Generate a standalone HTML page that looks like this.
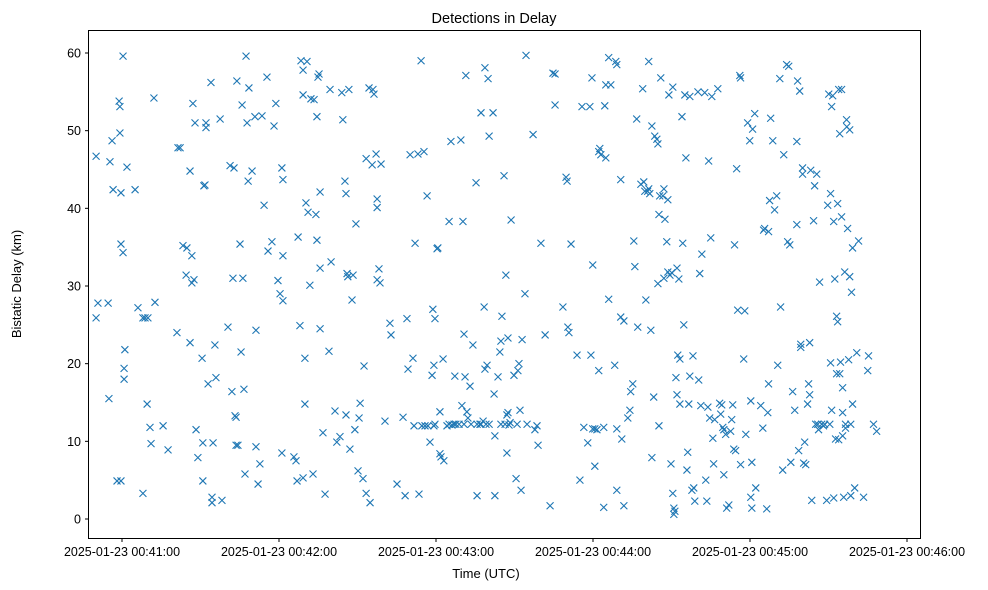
<!DOCTYPE html>
<html><head><meta charset="utf-8"><style>
body{margin:0;background:#fff;}
svg{display:block;font-family:"Liberation Sans","DejaVu Sans",sans-serif;}
</style></head><body>
<svg id="chart" width="988" height="590">
<rect x="0" y="0" width="988" height="590" fill="#fff"/>
<text x="494" y="23" text-anchor="middle" font-size="14.5" fill="#000">Detections in Delay</text>
<g id="marks"></g>
<g id="xticks"></g>
<g id="yticks"></g>
<rect x="88.5" y="30.5" width="832" height="508" fill="none" stroke="#000" stroke-width="1"/>
<text x="486" y="578" text-anchor="middle" font-size="13">Time (UTC)</text>
<text transform="translate(21,284) rotate(-90)" text-anchor="middle" font-size="13">Bistatic Delay (km)</text>
</svg>
<script>
// seconds after 2025-01-23 00:40:00
const times = [50.1,50.1,50.8,54.7,55.4,55.0,56.2,56.6,58.9,59.2,59.2,59.6,59.6,60.4,60.4,61.1,60.8,60.8,61.9,58.1,59.6,65.0,66.1,68.0,68.8,69.9,68.0,69.6,70.7,71.1,72.6,72.2,75.7,77.6,81.0,81.4,82.2,83.3,84.5,86.0,84.8,86.7,86.7,86.0,87.1,87.5,87.9,88.3,89.0,90.6,90.9,91.3,90.9,91.7,92.1,92.1,92.9,94.0,94.4,94.4,94.8,95.5,95.9,97.5,98.2,100.5,101.3,102.0,102.4,102.8,103.2,103.6,103.6,103.9,104.3,105.1,105.5,105.9,106.2,106.6,107.0,107.4,107.8,108.2,108.5,109.7,110.8,111.2,111.2,112.0,112.7,113.5,114.3,115.4,115.8,117.3,118.1,118.8,119.6,120.4,121.1,121.1,121.5,121.5,121.5,125.7,126.5,127.3,126.9,128.0,128.4,129.2,129.2,129.2,129.9,129.9,130.3,130.7,131.1,131.8,132.2,133.0,133.4,134.1,134.5,134.5,134.9,135.3,135.7,135.7,135.7,136.8,137.6,139.1,139.5,139.9,141.4,142.1,143.3,144.0,144.4,145.2,145.6,145.6,146.0,146.3,146.7,147.1,147.9,148.3,149.0,149.4,150.2,150.6,151.0,152.1,152.5,153.3,153.3,154.4,154.8,155.6,155.9,156.3,157.1,157.5,157.5,157.5,158.2,158.6,159.0,160.5,162.4,162.8,165.1,167.4,168.2,168.9,169.3,170.1,171.2,172.0,171.6,173.1,173.5,174.3,174.6,175.4,175.8,176.6,176.9,177.7,178.5,178.8,179.2,179.2,179.6,179.6,180.4,180.7,181.5,181.5,181.9,182.7,183.0,184.2,185.0,185.0,185.7,186.1,186.9,187.2,187.6,188.8,189.5,189.9,190.3,190.7,190.7,191.1,191.4,191.8,192.2,193.0,193.4,194.1,195.3,195.7,195.7,196.8,197.2,197.2,198.0,198.4,198.7,198.7,199.1,199.5,199.9,200.3,200.3,201.8,202.2,202.5,202.5,203.7,204.4,204.8,204.8,205.2,206.0,206.4,206.7,207.1,207.1,207.5,207.5,207.9,208.3,208.7,209.8,210.6,211.0,211.3,211.7,212.1,212.5,212.9,214.0,214.4,214.8,217.1,217.8,218.6,219.0,220.1,221.7,223.6,224.7,225.5,225.5,228.5,229.7,230.1,230.4,230.8,231.6,233.9,235.0,235.8,236.5,238.0,238.8,239.2,239.6,239.9,239.9,240.7,240.7,241.5,242.2,242.6,242.2,243.0,244.1,244.5,244.1,244.9,244.9,246.0,246.0,246.8,248.3,248.7,249.1,249.1,249.1,250.6,250.6,251.0,251.8,251.8,253.3,254.1,254.4,255.2,255.6,256.0,256.7,257.1,258.3,259.0,259.4,259.8,260.2,260.9,261.3,261.3,261.7,262.1,262.5,262.5,263.2,263.6,264.4,264.8,264.8,265.2,265.2,265.5,265.9,266.7,267.1,267.1,267.5,268.2,268.6,268.6,269.0,269.4,269.8,270.1,270.5,270.9,270.5,270.9,271.3,271.7,272.1,272.1,272.4,272.8,273.2,273.2,274.0,274.3,274.7,275.1,275.5,275.9,276.2,276.6,277.0,277.0,277.8,278.2,278.5,278.9,280.1,280.4,280.8,281.2,281.6,282.7,283.1,283.5,283.9,284.2,284.6,285.0,285.4,285.8,286.1,286.5,287.7,288.4,288.8,289.2,289.6,290.0,290.0,290.7,291.1,291.9,292.6,293.0,293.4,293.8,294.1,294.5,294.9,295.3,296.1,296.4,296.4,297.6,298.0,298.4,299.1,299.9,300.3,300.3,300.7,300.7,301.0,301.8,302.2,304.1,304.9,305.2,305.6,306.4,306.8,307.1,307.1,307.5,307.9,308.7,309.4,310.2,310.6,311.4,311.7,312.5,312.9,314.0,314.4,314.8,315.2,315.6,316.3,317.1,317.9,317.9,318.2,318.6,319.0,319.4,319.4,320.1,320.1,320.5,320.9,321.3,322.0,322.4,322.8,322.8,323.2,323.6,324.3,324.7,325.1,325.5,325.9,326.2,326.6,327.4,328.1,328.5,329.3,329.7,330.1,330.5,330.8,330.8,331.2,331.2,331.6,332.0,332.0,332.4,332.7,333.1,333.1,333.5,333.5,333.9,333.9,334.3,334.3,334.6,335.0,335.0,335.4,335.4,335.4,335.8,336.2,336.5,336.5,336.9,337.0,337.3,337.7,338.1,338.1,338.5,338.5,339.2,338.8,339.2,340.0,340.8,341.5,343.4,345.0,345.3,348.4,347.2];
const delays = [46.7,25.9,27.8,27.8,46.0,15.5,48.7,42.4,53.8,53.1,49.7,35.4,42.0,59.6,34.3,21.8,18.0,19.4,45.3,4.9,4.9,42.4,27.2,25.9,25.9,25.9,3.3,14.8,11.8,9.7,27.9,54.2,12.0,8.9,24.0,47.8,47.8,35.2,31.4,44.8,34.9,30.4,33.9,22.7,53.5,30.8,51.0,11.5,7.9,20.7,9.8,42.9,4.9,43.0,51.0,50.4,17.4,56.2,2.8,2.1,9.8,22.4,18.2,51.5,2.4,24.7,45.5,16.4,31.0,45.2,13.3,13.1,9.5,56.4,9.5,35.4,21.5,53.3,31.0,16.7,5.8,59.6,51.0,43.5,55.5,44.8,51.8,24.3,9.3,4.5,7.1,51.9,40.4,56.9,34.5,35.7,50.6,53.5,30.7,29.0,8.5,45.2,28.1,43.7,33.9,8.0,7.5,36.3,4.9,24.9,59.0,57.8,54.6,5.3,20.7,14.8,40.7,58.9,39.5,30.1,54.1,5.8,54.0,39.2,35.9,51.8,56.9,57.3,24.5,32.3,42.1,11.1,3.2,21.6,55.3,33.1,13.9,9.9,10.6,54.9,51.4,43.5,13.4,41.9,31.6,31.2,55.3,9.0,28.2,31.4,11.5,38.0,6.2,13.0,14.9,5.2,19.7,3.3,46.4,55.5,2.1,45.6,55.3,54.7,47.0,30.8,40.1,41.2,32.2,30.4,45.7,12.6,25.2,23.7,4.5,13.1,3.0,25.8,19.3,46.9,20.7,35.5,12.0,47.0,3.2,59.0,12.0,47.3,12.0,41.6,12.0,9.9,18.5,27.0,19.8,12.0,12.2,25.8,34.8,34.9,8.4,13.8,8.0,20.6,7.5,12.0,38.3,12.2,48.6,12.1,12.2,18.4,12.2,12.2,48.8,14.6,38.3,12.2,23.8,18.3,57.1,13.8,13.0,17.1,12.2,22.4,43.3,3.0,12.2,12.2,52.3,12.2,12.6,27.3,19.3,58.1,12.2,19.8,56.7,49.3,12.2,52.3,16.1,10.7,3.0,18.3,21.5,22.9,12.2,26.1,44.2,12.2,31.4,8.5,13.4,23.3,13.7,12.1,12.4,38.5,18.5,5.2,12.2,19.1,20.0,14.0,3.7,23.1,29.0,59.7,12.2,49.5,11.5,12.0,9.5,35.5,23.7,1.7,57.4,57.3,53.3,27.3,44.0,43.5,24.7,24.0,35.4,21.1,5.0,53.1,11.8,9.8,53.1,21.1,56.8,32.7,11.6,11.6,6.8,11.5,19.1,47.7,47.3,46.9,11.8,53.2,1.5,46.5,55.9,59.4,28.3,55.9,19.8,58.9,58.5,11.6,3.7,26.0,43.7,10.3,1.7,25.5,13.0,14.0,16.4,17.4,35.8,32.5,51.5,24.7,43.1,55.4,43.4,42.2,28.2,42.2,58.9,42.5,41.9,24.3,50.6,7.9,15.7,49.3,48.9,30.3,48.3,39.2,12.0,41.6,56.8,41.6,42.5,31.0,38.6,35.7,41.1,31.8,54.6,31.4,7.1,31.7,55.6,1.4,3.3,0.6,1.0,18.2,32.3,16.0,21.1,30.9,20.6,14.8,51.8,35.5,25.0,54.6,46.5,6.3,8.6,14.8,18.4,54.4,3.7,21.0,4.0,2.3,55.0,17.9,31.6,14.6,34.1,54.9,5.0,2.3,14.4,46.1,13.0,36.2,54.4,10.4,7.1,12.8,55.4,14.9,13.5,14.7,11.8,11.5,5.7,10.9,1.4,1.8,11.3,12.8,14.7,9.0,35.3,8.8,45.1,26.9,57.1,56.8,7.0,20.6,26.8,10.9,51.0,48.7,15.2,2.8,1.4,7.3,50.2,52.2,4.0,14.6,11.7,37.2,37.4,1.3,13.7,17.4,37.0,41.0,51.6,48.7,39.8,41.6,19.8,56.7,27.3,6.3,46.9,58.5,35.7,58.3,35.3,7.3,16.4,14.0,48.6,37.9,56.4,8.8,55.1,22.5,22.1,45.2,44.4,7.2,9.9,7.0,14.8,17.4,22.7,16.0,44.9,2.4,38.4,42.9,12.2,44.4,12.2,11.5,30.5,12.2,12.0,12.2,2.4,40.4,54.7,12.2,20.1,41.9,53.1,14.0,54.5,38.3,2.7,30.9,10.3,26.1,18.7,25.4,40.6,55.3,10.2,18.7,49.6,20.2,55.3,38.9,10.7,16.9,13.7,2.8,31.8,11.7,12.2,51.4,50.5,37.4,20.5,31.2,50.1,3.0,12.2,14.8,29.2,34.9,4.0,21.4,35.8,2.8,19.1,21.0,11.3,12.2];
const xTickValues = [60,120,180,240,300,360];
const xTickLabels = ["2025-01-23 00:41:00","2025-01-23 00:42:00","2025-01-23 00:43:00","2025-01-23 00:44:00","2025-01-23 00:45:00","2025-01-23 00:46:00"];
const yTickValues = [0,10,20,30,40,50,60];

const NS = "http://www.w3.org/2000/svg";
function xScale(t){ return 122 + (t - 60) * 157 / 60; }
function yScale(v){ return 519 - v * (466 / 60); }

const marks = document.getElementById('marks');
const n = Math.min(times.length, delays.length);
for (let i = 0; i < n; i++) {
  const cx = xScale(times[i]), cy = yScale(delays[i]), r = 3.5;
  const p = document.createElementNS(NS, 'path');
  p.setAttribute('d', `M${cx-r},${cy-r}L${cx+r},${cy+r}M${cx-r},${cy+r}L${cx+r},${cy-r}`);
  p.setAttribute('stroke', '#1f77b4');
  p.setAttribute('stroke-width', '1.1');
  p.setAttribute('fill', 'none');
  
  
  marks.appendChild(p);
}

const xg = document.getElementById('xticks');
xTickValues.forEach((v, i) => {
  const x = xScale(v);
  const l = document.createElementNS(NS, 'line');
  l.setAttribute('x1', x); l.setAttribute('x2', x);
  l.setAttribute('y1', 538.5); l.setAttribute('y2', 542);
  l.setAttribute('stroke', '#000');
  
  
  xg.appendChild(l);
  const t = document.createElementNS(NS, 'text');
  t.setAttribute('x', x); t.setAttribute('y', 556);
  t.setAttribute('text-anchor', 'middle');
  t.setAttribute('font-size', '12.5');
  t.textContent = xTickLabels[i];
  
  
  xg.appendChild(t);
});

const yg = document.getElementById('yticks');
yTickValues.forEach(v => {
  const y = yScale(v);
  const l = document.createElementNS(NS, 'line');
  l.setAttribute('x1', 85); l.setAttribute('x2', 88.5);
  l.setAttribute('y1', y); l.setAttribute('y2', y);
  l.setAttribute('stroke', '#000');
  
  
  yg.appendChild(l);
  const t = document.createElementNS(NS, 'text');
  t.setAttribute('x', 81); t.setAttribute('y', y + 4.5);
  t.setAttribute('text-anchor', 'end');
  t.setAttribute('font-size', '12.5');
  t.textContent = String(v);
  
  
  yg.appendChild(t);
});
</script>
</body></html>
